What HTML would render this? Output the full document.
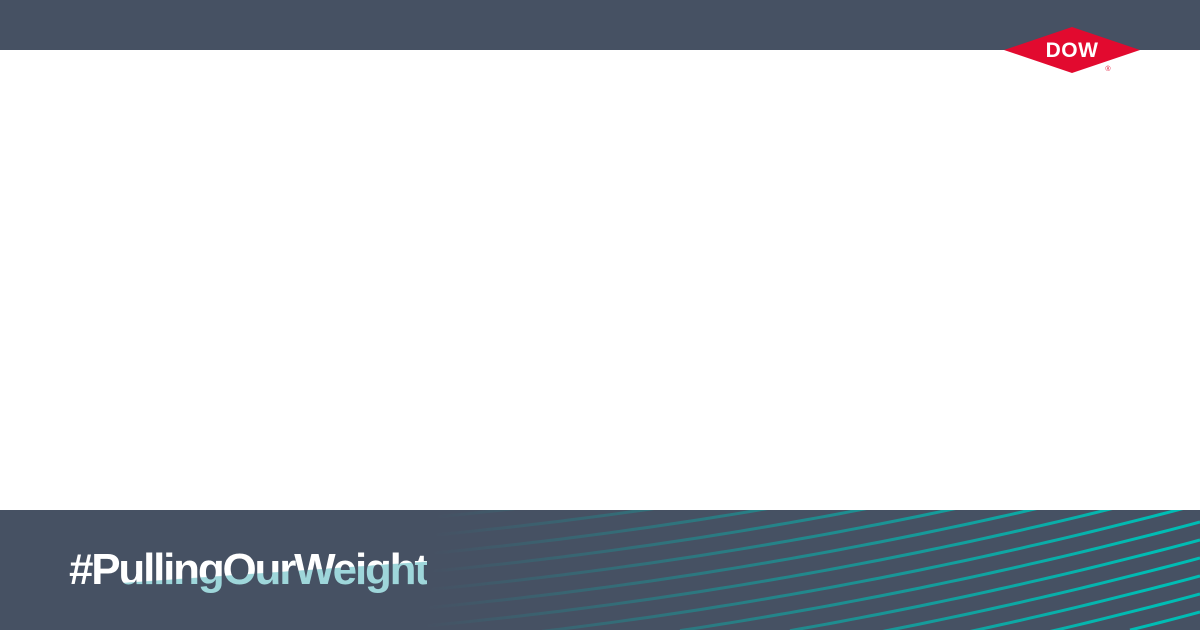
<!DOCTYPE html>
<html><head><meta charset="utf-8"><style>
html,body{margin:0;padding:0;width:1200px;height:630px;overflow:hidden;}
body{position:relative;background:#fff;font-family:"Liberation Sans",sans-serif;}
#topbar{position:absolute;left:0;top:0;width:1200px;height:50px;background:#465163;}
#band{position:absolute;left:0;top:510px;width:1200px;height:120px;background:#465163;overflow:hidden;}
#band svg{display:block;}
#tag{position:absolute;left:69px;top:545px;height:50px;overflow:hidden;font-size:44px;font-weight:bold;letter-spacing:-2.2px;line-height:50px;
background:linear-gradient(176deg,#fff 0,#fff 55%,#9ed6da 56%,#9ed6da 100%);-webkit-background-clip:text;background-clip:text;color:transparent;}
#logo{position:absolute;left:1004px;top:27px;}
</style></head><body>
<div id="topbar"></div>
<div id="band">
<svg id="lines" width="1200" height="120">
<defs><linearGradient id="fade" gradientUnits="userSpaceOnUse" x1="0" y1="0" x2="1200" y2="120">
<stop offset="0.36" stop-color="#00b8b0" stop-opacity="0"/><stop offset="0.95" stop-color="#00bdb4" stop-opacity="1"/></linearGradient></defs>
<g id="lg"></g></svg>
</div>
<div id="tag">#PullingOurWeight</div>
<svg id="logo" width="138" height="48" viewBox="0 0 138 48">
<polygon points="0,23 68,0 136,23 68,46" fill="#e20a2f"/>
<text x="68" y="30" text-anchor="middle" font-family="Liberation Sans,sans-serif" font-weight="bold" font-size="21" fill="#fff" letter-spacing="0.5">DOW</text>
<text x="104" y="44" text-anchor="middle" font-family="Liberation Sans,sans-serif" font-size="7" fill="#e20a2f">®</text>
</svg>
<script>
var g=document.getElementById('lg');
for(var i=0;i<18;i++){
  var k=10+i*18;
  var pts=[];
  for(var x=0;x<=1200;x+=10){
    var y=k-160*(x/1200)*(x/1200);
    if(y<=122&&y>=-10)pts.push(x+','+y.toFixed(1));
  }
  if(pts.length<2)continue;
  var p=document.createElementNS('http://www.w3.org/2000/svg','polyline');
  p.setAttribute('points',pts.join(' '));
  p.setAttribute('stroke','url(#fade)');p.setAttribute('stroke-width','3');p.setAttribute('fill','none');
  
  
  g.appendChild(p);
}
</script>
</body></html>
